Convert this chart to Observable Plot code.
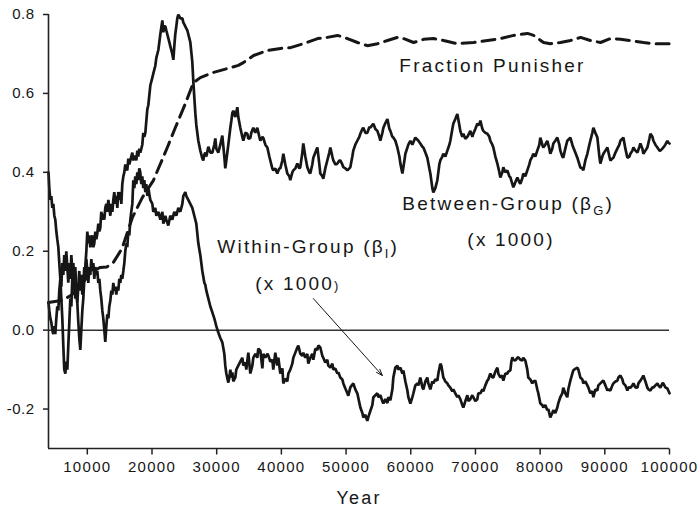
<!DOCTYPE html>
<html>
<head>
<meta charset="utf-8">
<script src="https://cdn.jsdelivr.net/npm/d3@7"></script>
<script src="https://cdn.jsdelivr.net/npm/@observablehq/plot@0.6"></script>
<style>
  html, body { margin: 0; padding: 0; background: #fff; }
  #chart { width: 700px; height: 509px; }
</style>
</head>
<body>
<div id="chart"></div>
<script>
// ---- data (year, value) ----
const fractionPunisher = [[4000,0.07],[6000,0.075],[7500,0.088],[9000,0.113],[10500,0.146],[12000,0.159],[13000,0.16],[14000,0.171],[15000,0.197],[15410,0.209],[16960,0.285],[18500,0.336],[20200,0.379],[22370,0.463],[23600,0.513],[25150,0.574],[26390,0.627],[27470,0.640],[29480,0.653],[31650,0.663],[33350,0.671],[34120,0.678],[35700,0.696],[37860,0.709],[39870,0.714],[41410,0.716],[43400,0.726],[45600,0.739],[47100,0.742],[48680,0.747],[50220,0.739],[51760,0.729],[53300,0.721],[54870,0.726],[56410,0.734],[57960,0.742],[58880,0.739],[60430,0.729],[61980,0.737],[63520,0.739],[65070,0.734],[67230,0.726],[69700,0.729],[71870,0.734],[73850,0.739],[75900,0.747],[78050,0.752],[79000,0.747],[80530,0.729],[81600,0.726],[83150,0.729],[84700,0.734],[86250,0.742],[87800,0.734],[89340,0.729],[90880,0.739],[92430,0.737],[93970,0.734],[95990,0.729],[97530,0.726],[100000,0.726]];

const betweenGroup = [[4000,0.40],[4125,0.36],[4280,0.33],[4435,0.34],[4590,0.31],[4745,0.32],[4900,0.29],[5050,0.28],[5210,0.25],[5360,0.23],[5520,0.21],[5670,0.17],[5830,0.13],[5980,0.08],[6135,0.03],[6290,-0.04],[6440,-0.10],[6600,-0.11],[6750,-0.08],[6910,-0.10],[7060,-0.04],[7220,0.02],[7370,0.08],[7530,0.06],[7680,0.13],[7840,0.17],[7990,0.12],[8145,0.16],[8300,0.10],[8450,0.07],[8610,0.02],[8760,-0.02],[8920,-0.05],[9070,0.00],[9230,0.05],[9380,0.08],[9540,0.13],[9690,0.16],[9850,0.20],[10000,0.25],[10155,0.22],[10310,0.24],[10460,0.21],[10620,0.23],[10770,0.24],[10930,0.21],[11080,0.22],[11240,0.25],[11390,0.23],[11550,0.245],[11700,0.27],[11860,0.25],[12010,0.26],[12160,0.30],[12320,0.28],[12470,0.295],[12630,0.28],[12780,0.31],[12940,0.32],[13090,0.30],[13250,0.33],[13400,0.31],[13560,0.29],[13710,0.32],[13870,0.30],[14020,0.33],[14170,0.35],[14330,0.32],[14480,0.34],[14640,0.31],[14790,0.35],[14950,0.33],[15100,0.35],[15260,0.32],[15410,0.37],[15570,0.39],[15720,0.40],[15870,0.42],[16030,0.41],[16180,0.405],[16340,0.435],[16490,0.42],[16650,0.43],[16800,0.44],[16960,0.45],[17110,0.43],[17270,0.44],[17420,0.44],[17580,0.43],[17730,0.455],[17880,0.44],[18040,0.46],[18190,0.45],[18350,0.46],[18500,0.47],[18650,0.50],[18810,0.49],[18970,0.50],[19120,0.53],[19280,0.56],[19430,0.57],[19740,0.62],[20050,0.64],[20200,0.65],[20510,0.67],[20670,0.69],[20980,0.71],[21290,0.75],[21600,0.785],[21750,0.755],[21910,0.77],[22060,0.77],[22210,0.76],[22520,0.74],[22830,0.72],[23140,0.70],[23300,0.685],[23450,0.72],[23600,0.75],[23760,0.77],[23910,0.79],[24070,0.80],[24380,0.79],[24690,0.79],[24840,0.78],[25150,0.77],[25300,0.765],[25460,0.76],[25610,0.75],[25920,0.73],[26230,0.68],[26390,0.63],[26540,0.59],[26700,0.55],[26850,0.52],[27160,0.48],[27470,0.455],[27780,0.435],[27930,0.43],[28090,0.445],[28240,0.45],[28400,0.44],[28710,0.465],[29020,0.45],[29330,0.45],[29630,0.47],[29790,0.486],[29940,0.46],[30250,0.45],[30560,0.47],[30870,0.493],[31180,0.44],[31330,0.41],[31490,0.43],[31800,0.47],[32110,0.513],[32260,0.53],[32420,0.55],[32570,0.556],[32880,0.54],[33190,0.565],[33340,0.54],[33650,0.513],[33960,0.49],[34120,0.48],[34430,0.50],[34740,0.498],[34890,0.485],[35200,0.487],[35350,0.50],[35660,0.513],[35970,0.50],[36280,0.513],[36590,0.49],[36750,0.48],[37060,0.49],[37210,0.487],[37520,0.47],[37830,0.463],[38140,0.44],[38290,0.43],[38600,0.41],[38750,0.405],[39060,0.41],[39370,0.397],[39680,0.41],[39840,0.41],[40150,0.43],[40300,0.447],[40610,0.42],[40920,0.397],[41230,0.39],[41380,0.38],[41690,0.40],[41850,0.405],[42160,0.41],[42470,0.422],[42780,0.41],[42930,0.413],[43240,0.45],[43390,0.473],[43700,0.44],[44010,0.413],[44320,0.40],[44470,0.397],[44780,0.42],[44940,0.437],[45250,0.45],[45560,0.463],[45870,0.42],[46020,0.397],[46330,0.39],[46480,0.384],[46790,0.41],[47100,0.43],[47410,0.45],[47570,0.463],[47880,0.44],[48030,0.43],[48340,0.42],[48650,0.422],[48960,0.43],[49110,0.43],[49420,0.42],[49580,0.413],[49890,0.41],[50200,0.405],[50510,0.41],[50660,0.413],[50970,0.44],[51120,0.455],[51430,0.47],[51740,0.48],[52050,0.49],[52210,0.498],[52520,0.51],[52670,0.513],[52980,0.50],[53290,0.50],[53600,0.515],[53750,0.513],[54060,0.52],[54220,0.523],[54530,0.51],[54840,0.505],[55150,0.49],[55300,0.48],[55610,0.50],[55770,0.513],[56080,0.525],[56390,0.535],[56700,0.51],[56850,0.505],[57160,0.49],[57310,0.488],[57620,0.48],[57930,0.463],[58240,0.44],[58400,0.422],[58550,0.41],[58710,0.397],[59020,0.43],[59170,0.447],[59630,0.47],[59940,0.48],[60250,0.47],[60710,0.488],[61180,0.48],[61480,0.473],[61790,0.465],[61950,0.463],[62260,0.45],[62560,0.437],[62870,0.41],[63030,0.397],[63340,0.36],[63490,0.349],[63800,0.36],[64110,0.38],[64420,0.42],[64570,0.43],[64880,0.44],[65040,0.447],[65350,0.44],[65660,0.455],[65970,0.47],[66120,0.48],[66430,0.51],[66580,0.523],[66890,0.535],[67200,0.548],[67510,0.52],[67660,0.505],[67970,0.49],[68130,0.498],[68440,0.485],[68750,0.49],[69060,0.50],[69210,0.505],[69520,0.49],[69670,0.498],[69980,0.51],[70290,0.523],[70600,0.52],[70760,0.531],[71070,0.51],[71220,0.505],[71530,0.50],[71840,0.498],[72150,0.49],[72300,0.48],[72610,0.47],[72770,0.463],[73080,0.44],[73390,0.422],[73700,0.40],[73850,0.387],[74160,0.40],[74310,0.413],[74620,0.40],[74930,0.405],[75240,0.39],[75400,0.387],[75710,0.37],[75860,0.362],[76170,0.375],[76480,0.387],[76790,0.375],[76940,0.371],[77250,0.385],[77400,0.397],[77710,0.39],[78020,0.405],[78330,0.42],[78480,0.43],[78790,0.44],[78950,0.447],[79260,0.44],[79560,0.455],[79880,0.47],[80030,0.488],[80340,0.47],[80490,0.463],[80800,0.47],[81110,0.48],[81420,0.46],[81570,0.447],[81880,0.46],[82040,0.473],[82350,0.48],[82660,0.488],[82970,0.47],[83120,0.455],[83430,0.44],[83580,0.437],[83890,0.46],[84200,0.48],[84510,0.485],[84670,0.488],[84980,0.47],[85130,0.463],[85440,0.45],[85750,0.437],[86070,0.42],[86220,0.412],[86530,0.41],[86680,0.405],[86990,0.43],[87300,0.447],[87610,0.47],[87760,0.48],[88070,0.50],[88230,0.513],[88540,0.50],[88850,0.488],[89160,0.44],[89310,0.422],[89620,0.44],[89780,0.447],[90090,0.455],[90400,0.463],[90710,0.44],[90860,0.43],[91170,0.435],[91330,0.437],[91640,0.45],[91940,0.46],[92250,0.47],[92410,0.48],[92720,0.485],[92870,0.488],[93180,0.46],[93490,0.437],[93800,0.44],[93950,0.447],[94270,0.455],[94420,0.463],[94730,0.455],[95040,0.45],[95350,0.465],[95500,0.473],[95810,0.46],[95960,0.447],[96270,0.455],[96580,0.463],[96890,0.485],[97050,0.498],[97360,0.49],[97510,0.48],[97820,0.47],[98130,0.463],[98440,0.455],[98590,0.455],[98900,0.46],[99050,0.463],[99360,0.47],[99670,0.48],[99830,0.475],[100000,0.473]];

const withinGroup = [[4000,0.07],[4125,0.05],[4280,0.03],[4435,0.02],[4590,0.00],[4745,-0.01],[4900,0.01],[5050,-0.01],[5210,0.03],[5360,0.06],[5520,0.05],[5670,0.10],[5830,0.13],[5980,0.11],[6135,0.17],[6290,0.14],[6440,0.19],[6600,0.15],[6750,0.20],[6910,0.16],[7060,0.12],[7220,0.17],[7370,0.13],[7530,0.19],[7680,0.15],[7840,0.10],[7990,0.13],[8145,0.08],[8300,0.12],[8450,0.07],[8610,0.11],[8760,0.15],[8920,0.10],[9070,0.14],[9230,0.09],[9380,0.12],[9540,0.16],[9690,0.13],[9850,0.18],[10000,0.15],[10155,0.12],[10310,0.16],[10460,0.14],[10620,0.18],[10770,0.15],[10930,0.17],[11080,0.13],[11240,0.16],[11390,0.14],[11550,0.15],[11700,0.12],[11860,0.13],[12010,0.10],[12160,0.08],[12320,0.05],[12470,0.03],[12630,0.00],[12780,-0.03],[12940,0.01],[13090,0.04],[13250,0.03],[13400,0.06],[13560,0.075],[13710,0.10],[13870,0.09],[14020,0.12],[14170,0.10],[14330,0.11],[14480,0.09],[14640,0.11],[14790,0.10],[14950,0.13],[15100,0.12],[15260,0.14],[15410,0.13],[15570,0.15],[15720,0.17],[15870,0.20],[16030,0.22],[16180,0.21],[16340,0.25],[16490,0.24],[16650,0.28],[16800,0.30],[16960,0.32],[17110,0.38],[17270,0.36],[17420,0.39],[17580,0.37],[17730,0.40],[17880,0.38],[18040,0.41],[18190,0.40],[18350,0.37],[18500,0.39],[18650,0.36],[18810,0.38],[18970,0.35],[19120,0.37],[19280,0.34],[19430,0.36],[19740,0.33],[20050,0.32],[20200,0.30],[20510,0.31],[20670,0.29],[20980,0.30],[21290,0.28],[21600,0.30],[21750,0.27],[22060,0.29],[22210,0.28],[22520,0.265],[22830,0.29],[23140,0.28],[23450,0.30],[23760,0.29],[24070,0.31],[24380,0.30],[24690,0.32],[24840,0.34],[25150,0.35],[25300,0.34],[25610,0.33],[25920,0.32],[26230,0.31],[26540,0.29],[26850,0.27],[27160,0.22],[27470,0.19],[27780,0.15],[28090,0.12],[28240,0.115],[28400,0.10],[28710,0.08],[29020,0.06],[29330,0.045],[29630,0.03],[29790,0.02],[29940,0.01],[30250,-0.006],[30560,-0.02],[30870,-0.031],[31180,-0.06],[31330,-0.09],[31490,-0.11],[31800,-0.133],[31950,-0.12],[32110,-0.10],[32260,-0.12],[32420,-0.107],[32570,-0.13],[32880,-0.12],[33030,-0.10],[33340,-0.09],[33650,-0.08],[33960,-0.07],[34120,-0.09],[34430,-0.082],[34580,-0.10],[34890,-0.057],[35200,-0.11],[35510,-0.09],[35660,-0.07],[35970,-0.06],[36280,-0.07],[36430,-0.047],[36750,-0.052],[37060,-0.097],[37210,-0.06],[37520,-0.07],[37830,-0.06],[37980,-0.064],[38290,-0.08],[38600,-0.075],[38750,-0.10],[39060,-0.057],[39370,-0.09],[39530,-0.07],[39840,-0.11],[40150,-0.097],[40300,-0.135],[40610,-0.123],[40920,-0.13],[41080,-0.11],[41380,-0.10],[41690,-0.085],[41850,-0.07],[42160,-0.057],[42470,-0.044],[42620,-0.039],[42930,-0.06],[43240,-0.065],[43390,-0.057],[43700,-0.07],[44010,-0.06],[44160,-0.085],[44470,-0.07],[44780,-0.06],[44940,-0.075],[45250,-0.047],[45560,-0.05],[45710,-0.039],[46020,-0.044],[46330,-0.065],[46480,-0.07],[46790,-0.082],[47100,-0.075],[47260,-0.09],[47570,-0.095],[47880,-0.085],[48030,-0.10],[48340,-0.097],[48650,-0.11],[48800,-0.107],[49110,-0.12],[49420,-0.125],[49580,-0.135],[49890,-0.148],[50200,-0.16],[50350,-0.166],[50660,-0.145],[51120,-0.135],[51430,-0.15],[51740,-0.16],[52210,-0.196],[52520,-0.21],[52670,-0.221],[52980,-0.215],[53290,-0.23],[53450,-0.22],[53750,-0.205],[54060,-0.19],[54220,-0.17],[54530,-0.165],[54840,-0.16],[55000,-0.17],[55300,-0.165],[55610,-0.18],[55770,-0.186],[56080,-0.175],[56390,-0.185],[56540,-0.17],[56850,-0.178],[57160,-0.15],[57310,-0.12],[57620,-0.095],[57930,-0.09],[58080,-0.10],[58400,-0.095],[58710,-0.11],[58860,-0.102],[59170,-0.13],[59480,-0.153],[59630,-0.17],[59940,-0.186],[60250,-0.17],[60410,-0.16],[60710,-0.14],[61020,-0.135],[61180,-0.14],[61480,-0.12],[61790,-0.145],[61950,-0.15],[62260,-0.13],[62560,-0.12],[62720,-0.135],[63030,-0.15],[63340,-0.13],[63490,-0.135],[63800,-0.125],[64110,-0.128],[64270,-0.11],[64570,-0.085],[64730,-0.09],[65040,-0.12],[65350,-0.13],[65660,-0.135],[65810,-0.14],[66120,-0.146],[66430,-0.155],[66580,-0.15],[66890,-0.16],[67200,-0.17],[67360,-0.165],[67660,-0.175],[67970,-0.19],[68130,-0.196],[68440,-0.18],[68750,-0.165],[68900,-0.18],[69210,-0.175],[69520,-0.165],[69670,-0.17],[69980,-0.18],[70290,-0.175],[70450,-0.16],[70760,-0.16],[71070,-0.15],[71220,-0.155],[71530,-0.14],[71840,-0.128],[71990,-0.125],[72300,-0.11],[72610,-0.12],[72770,-0.12],[73080,-0.105],[73390,-0.095],[73540,-0.11],[73850,-0.12],[74160,-0.115],[74310,-0.128],[74620,-0.11],[74930,-0.11],[75090,-0.105],[75400,-0.102],[75550,-0.08],[75710,-0.069],[75860,-0.075],[76170,-0.077],[76480,-0.07],[76630,-0.069],[76940,-0.075],[77250,-0.077],[77400,-0.07],[77710,-0.077],[78020,-0.10],[78170,-0.12],[78480,-0.125],[78790,-0.135],[78950,-0.13],[79260,-0.128],[79560,-0.15],[79720,-0.16],[80030,-0.186],[80340,-0.19],[80490,-0.196],[80800,-0.19],[81110,-0.203],[81260,-0.2],[81570,-0.221],[81880,-0.21],[82040,-0.203],[82350,-0.21],[82660,-0.196],[82810,-0.185],[83120,-0.17],[83430,-0.16],[83580,-0.146],[83890,-0.16],[84200,-0.17],[84360,-0.15],[84670,-0.128],[84980,-0.11],[85130,-0.102],[85440,-0.098],[85750,-0.095],[85910,-0.10],[86220,-0.12],[86530,-0.125],[86680,-0.135],[86990,-0.13],[87300,-0.14],[87450,-0.145],[87760,-0.16],[88070,-0.155],[88230,-0.17],[88540,-0.15],[88850,-0.153],[89000,-0.14],[89310,-0.135],[89620,-0.13],[89780,-0.128],[90090,-0.14],[90400,-0.153],[90550,-0.15],[90860,-0.153],[91170,-0.14],[91330,-0.135],[91640,-0.13],[91940,-0.128],[92100,-0.12],[92410,-0.115],[92720,-0.125],[92870,-0.135],[93180,-0.14],[93490,-0.153],[93650,-0.145],[93950,-0.146],[94270,-0.14],[94420,-0.135],[94730,-0.145],[95040,-0.146],[95190,-0.135],[95500,-0.128],[95810,-0.12],[95960,-0.115],[96270,-0.13],[96580,-0.146],[96740,-0.15],[97050,-0.153],[97360,-0.145],[97510,-0.146],[97820,-0.14],[98130,-0.135],[98280,-0.14],[98590,-0.146],[98900,-0.135],[99050,-0.135],[99360,-0.145],[99670,-0.148],[100000,-0.16]];

const xTicks = [10000, 20000, 30000, 40000, 50000, 60000, 70000, 80000, 90000, 100000];
const yTicks = [-0.2, 0.0, 0.2, 0.4, 0.6, 0.8];
const xDomain = [4000, 100000];
const yDomain = [-0.3, 0.8];
const xTitle = "Year";

// annotations
const labelMain  = ["Fraction Punisher", "Between-Group (\u03B2", "(x 1000)", "Within-Group (\u03B2", "(x 1000"];
const labelSub   = ["", "G", "", "I", ""];
const labelTail  = ["", ")", "", ")", ")"];
const labelYear  = [58235, 58700, 68750, 30100, 35970];
const labelValue = [0.6555, 0.3057, 0.2142, 0.1967, 0.1029];
const arrowFrom = [44940, 0.080];
const arrowTo   = [55610, -0.115];

const font = '"Liberation Sans", Arial, Helvetica, sans-serif';
const ink = "#161616";

// outward tick symbols for the axes
const tickLeft = {draw(ctx) { ctx.moveTo(-5.5, 0); ctx.lineTo(0, 0); }};
const tickDown = {draw(ctx) { ctx.moveTo(0, 0); ctx.lineTo(0, 6); }};

const chart = Plot.plot({
  width: 700,
  height: 509,
  marginLeft: 48,
  marginRight: 31,
  marginTop: 14,
  marginBottom: 61,
  x: {domain: xDomain},
  y: {domain: yDomain},
  style: {fontFamily: font, color: ink, background: "#fff", overflow: "visible"},
  marks: [
    Plot.ruleY([0], {stroke: "#333", strokeWidth: 1.5}),
    Plot.line(fractionPunisher, {x: d => d[0], y: d => d[1], stroke: ink, strokeWidth: 3, strokeDasharray: "13,7"}),
    Plot.line(withinGroup, {x: d => d[0], y: d => d[1], stroke: ink, strokeWidth: 2.7, strokeLinejoin: "miter"}),
    Plot.line(betweenGroup, {x: d => d[0], y: d => d[1], stroke: ink, strokeWidth: 2.7, strokeLinejoin: "miter"}),
    Plot.ruleX([xDomain[0]], {y1: yDomain[0], y2: yDomain[1], stroke: "#222", strokeWidth: 1.6}),
    Plot.ruleY([yDomain[0]], {x1: xDomain[0], x2: xDomain[1], stroke: "#222", strokeWidth: 1.6}),
    Plot.dot(yTicks, {x: () => xDomain[0], y: d => d, symbol: tickLeft, stroke: "#222", strokeWidth: 1.5, fill: "none"}),
    Plot.dot(xTicks, {x: d => d, y: () => yDomain[0], symbol: tickDown, stroke: "#222", strokeWidth: 1.5, fill: "none"}),
    Plot.axisY(yTicks, {tickSize: 0, tickPadding: 14, tickFormat: d => d.toFixed(1), fontSize: 15, label: null, fill: ink}),
    Plot.axisX(xTicks, {tickSize: 0, tickPadding: 13, tickFormat: d => String(d), fontSize: 15, label: null, fill: ink}),
    Plot.text([xTitle], {text: d => d, frameAnchor: "bottom", dy: 55, lineAnchor: "bottom", fontSize: 18, fill: ink}),
    Plot.text(labelMain, {
      x: (d, i) => labelYear[i], y: (d, i) => labelValue[i], text: d => d,
      textAnchor: "start", lineAnchor: "bottom", fontSize: 19, fill: ink
    }),
    Plot.arrow([0], {
      x1: () => arrowFrom[0], y1: () => arrowFrom[1], x2: () => arrowTo[0], y2: () => arrowTo[1],
      stroke: ink, strokeWidth: 1, headLength: 10, headAngle: 40
    })
  ]
});

// letter spacing and subscripts
chart.querySelectorAll('g[aria-label="x-axis tick label"] text').forEach(t => t.setAttribute("letter-spacing", "1.3"));
chart.querySelectorAll('g[aria-label="y-axis tick label"] text').forEach(t => t.setAttribute("letter-spacing", "0.5"));
chart.querySelectorAll("text").forEach(t => {
  const s = t.textContent;
  if (s === xTitle) t.setAttribute("letter-spacing", "2.2");
  const i = labelMain.indexOf(s);
  if (i < 0) return;
  t.setAttribute("letter-spacing", "2.2");
  const ns = "http://www.w3.org/2000/svg";
  if (labelSub[i]) {
    const sub = document.createElementNS(ns, "tspan");
    sub.setAttribute("font-size", "13");
    sub.setAttribute("dy", "5");
    sub.textContent = labelSub[i];
    t.appendChild(sub);
    const tail = document.createElementNS(ns, "tspan");
    tail.setAttribute("dy", "-5");
    tail.textContent = labelTail[i];
    t.appendChild(tail);
  } else if (labelTail[i]) {
    const tail = document.createElementNS(ns, "tspan");
    tail.setAttribute("font-size", "13");
    tail.textContent = labelTail[i];
    t.appendChild(tail);
  }
});

document.getElementById("chart").appendChild(chart);
</script>
</body>
</html>
